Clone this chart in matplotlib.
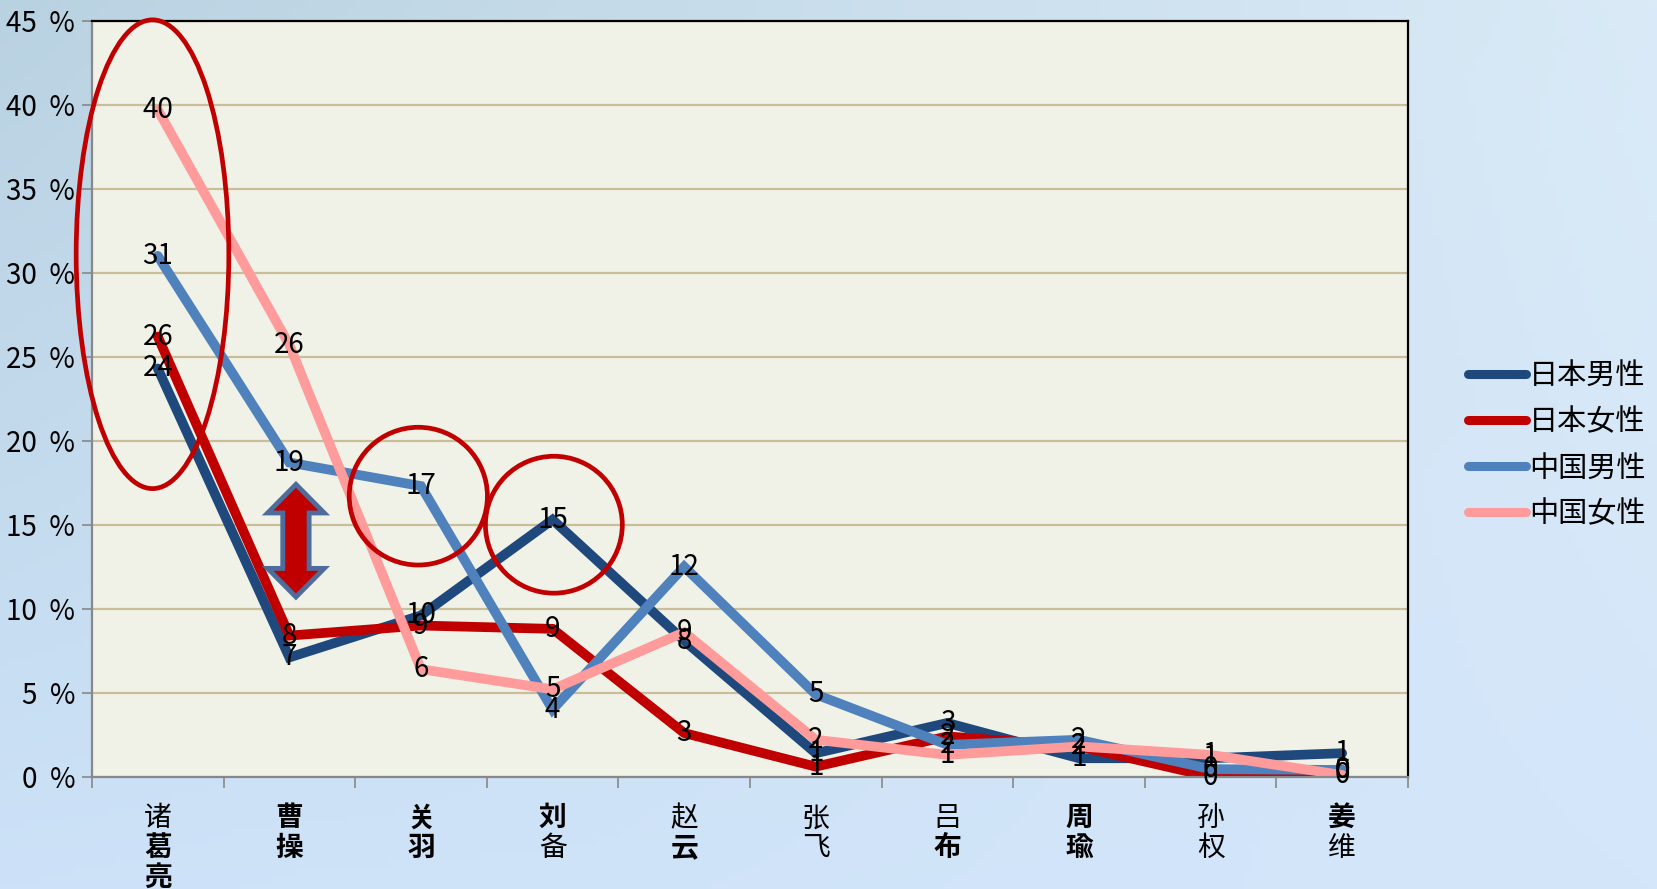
import numpy as np
import matplotlib
matplotlib.use('Agg')
import matplotlib.pyplot as plt
from matplotlib.patches import Ellipse, Polygon

plt.rcParams['font.family'] = ['Noto Sans CJK JP', 'Noto Sans CJK SC', 'DejaVu Sans']

# 人物 (横軸)
names = ['诸葛亮', '曹操', '关羽', '刘备', '赵云', '张飞', '吕布', '周瑜', '孙权', '姜维']
bold_chars = set('葛亮曹操关羽刘云布周瑜姜')

# 各系列 (%)
jp_male = [24.3, 7.1, 9.6, 15.3, 8.1, 1.4, 3.2, 1.1, 1.1, 1.4]
jp_female = [26.2, 8.4, 9.0, 8.8, 2.6, 0.6, 2.4, 1.8, 0.0, 0.4]
cn_male = [31.0, 18.7, 17.3, 4.0, 12.5, 4.9, 1.9, 2.2, 0.45, 0.4]
cn_female = [39.7, 25.7, 6.4, 5.2, 8.6, 2.2, 1.3, 1.8, 1.3, 0.1]

series = [
    ('日本男性', jp_male, '#1F497D'),
    ('日本女性', jp_female, '#C00000'),
    ('中国男性', cn_male, '#4F81BD'),
    ('中国女性', cn_female, '#FF9B9B'),
]
yticks = [0, 5, 10, 15, 20, 25, 30, 35, 40, 45]

fig = plt.figure(figsize=(16.57, 8.89), dpi=100)

# 背景のグラデーション
bg = fig.add_axes([0, 0, 1, 1], zorder=-10)
tl = np.array([185, 210, 225]) / 255
tr = np.array([218, 234, 247]) / 255
bl = np.array([205, 226, 248]) / 255
br = np.array([212, 230, 250]) / 255
u = np.linspace(0, 1, 200)[None, :, None]
v = np.linspace(0, 1, 120)[:, None, None]
img = (1 - v) * ((1 - u) * tl + u * tr) + v * ((1 - u) * bl + u * br)
bg.imshow(img, aspect='auto', extent=[0, 1, 0, 1])
bg.axis('off')

ax = fig.add_axes([0.0555, 0.1263, 0.7942, 0.8504])
ax.set_facecolor('#F0F2E8')
x = np.arange(len(names))

for label, vals, col in series:
    ax.plot(x, vals, color=col, lw=7, label=label, solid_capstyle='round',
            solid_joinstyle='miter')
for label, vals, col in series:
    for xi, vi in zip(x, vals):
        ax.text(xi, vi, str(int(round(vi))), ha='center', va='center',
                fontsize=20, color='black', zorder=5)

ax.set_xlim(-0.5, 9.5)
ax.set_ylim(0, 45)
ax.set_yticks(yticks)
ax.set_yticklabels([f'{t}  %' for t in yticks], fontsize=20)
ax.yaxis.grid(True, color='#C9BE98', lw=1.6)
ax.set_axisbelow(True)
ax.tick_params(axis='y', length=7, width=1.2, color='#888888', pad=5)
ax.set_xticks(np.arange(-0.5, 10, 1))
ax.set_xticklabels([])
ax.tick_params(axis='x', length=8, width=1.2, color='#888888', direction='out')
for s in ['left', 'bottom']:
    ax.spines[s].set_color('#888888')
    ax.spines[s].set_linewidth(1.6)
for s in ['top', 'right']:
    ax.spines[s].set_color('black')
    ax.spines[s].set_linewidth(1.6)

# 縦書きの名前
tr_x = ax.get_xaxis_transform()
for i, name in enumerate(names):
    for j, ch in enumerate(name):
        ax.text(i, -0.055 - j * 0.0397, ch, transform=tr_x, ha='center', va='center',
                fontsize=20, fontweight='bold' if ch in bold_chars else 'normal',
                clip_on=False)

# 強調の丸
kw = dict(fill=False, edgecolor='#C00000', lw=3.4, zorder=6, clip_on=False)
ax.add_patch(Ellipse((-0.04, 31.1), 1.16, 27.9, **kw))
ax.add_patch(Ellipse((1.98, 16.7), 1.05, 8.2, **kw))
ax.add_patch(Ellipse((3.01, 15.0), 1.04, 8.15, **kw))

# 両矢印
cx, top, bot = 1.05, 17.4, 10.7
hw, sw, hl = 0.215, 0.1, 1.7
arrow = Polygon([
    (cx, top), (cx + hw, top - hl), (cx + sw, top - hl), (cx + sw, bot + hl),
    (cx + hw, bot + hl), (cx, bot), (cx - hw, bot + hl), (cx - sw, bot + hl),
    (cx - sw, top - hl), (cx - hw, top - hl)],
    closed=True, facecolor='#C00000', edgecolor='#4F6D9A', lw=3.5, zorder=6)
ax.add_patch(arrow)

leg = ax.legend(loc='center left', bbox_to_anchor=(0.87, 0.499),
                bbox_transform=fig.transFigure, frameon=False, fontsize=21,
                handlelength=2.0, handletextpad=0.1, labelspacing=0.55)
for h in leg.get_lines():
    h.set_linewidth(6.5)
    h.set_solid_capstyle('round')

fig.savefig('out.png', dpi=100)
